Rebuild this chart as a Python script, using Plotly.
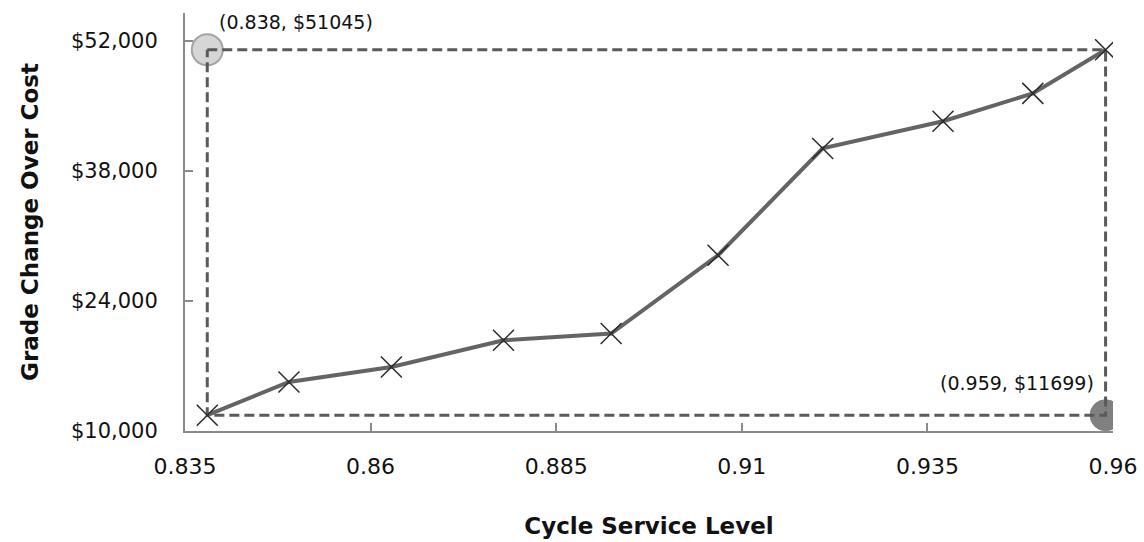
import plotly.graph_objects as go

# Cycle service level vs. grade change-over cost
service_level = [0.838, 0.849, 0.8628, 0.8779, 0.8924, 0.9068, 0.9209, 0.9371, 0.9492, 0.959]
changeover_cost = [11699, 15277, 16892, 19767, 20489, 28921, 40422, 43351, 46345, 51045]

x_ticks = [0.835, 0.86, 0.885, 0.91, 0.935, 0.96]
y_ticks = [10000, 24000, 38000, 52000]
y_tick_text = ["$10,000", "$24,000", "$38,000", "$52,000"]

x_lo, x_hi = service_level[0], service_level[-1]
y_lo, y_hi = changeover_cost[0], changeover_cost[-1]

font_family = "DejaVu Sans, Verdana, sans-serif"
guide_color = "#5a5a5a"

fig = go.Figure()

# corner markers
fig.add_trace(go.Scatter(
    x=[x_lo], y=[y_hi], mode="markers",
    marker=dict(size=31, color="#d6d6d6", line=dict(color="#a3a3a3", width=2)),
    hoverinfo="skip", showlegend=False,
))
fig.add_trace(go.Scatter(
    x=[x_hi], y=[y_lo], mode="markers",
    marker=dict(size=31, color="#808080", line=dict(color="#808080", width=1)),
    hoverinfo="skip", showlegend=False,
))

# dashed bounding guides
fig.add_trace(go.Scatter(
    x=[x_lo, x_hi, x_hi, x_lo, x_lo], y=[y_hi, y_hi, y_lo, y_lo, y_hi],
    mode="lines", line=dict(color=guide_color, width=3, dash="10px,5px"),
    hoverinfo="skip", showlegend=False,
))

# main series
fig.add_trace(go.Scatter(
    x=service_level, y=changeover_cost, mode="lines+markers",
    line=dict(color="#646464", width=4),
    marker=dict(symbol="x-thin", size=21, line=dict(color="#2b2b2b", width=1.5)),
    showlegend=False,
))

fig.add_annotation(x=x_lo, y=y_hi, xref="x", yref="y", text="(0.838, $51045)",
                   showarrow=False, xanchor="left", yanchor="middle",
                   xshift=10, yshift=28, font=dict(size=19, color="#111111", family=font_family))
fig.add_annotation(x=x_hi, y=y_lo, xref="x", yref="y", text="(0.959, $11699)",
                   showarrow=False, xanchor="right", yanchor="middle",
                   xshift=-10, yshift=32, font=dict(size=19, color="#111111", family=font_family))

fig.update_layout(
    width=1144, height=542,
    margin=dict(l=185, r=31, t=13, b=111),
    paper_bgcolor="white", plot_bgcolor="white",
    font=dict(family=font_family, color="#111111"),
)
fig.update_xaxes(
    range=[0.835, 0.96], tickvals=x_ticks, ticktext=[f"{v:g}" for v in x_ticks],
    showgrid=False, zeroline=False, showline=True, linecolor="#8a8a8a", linewidth=2,
    ticks="inside", ticklen=8, tickcolor="#8a8a8a", tickwidth=1.5,
    tickfont=dict(size=22, family=font_family), ticklabelstandoff=15,
    title=dict(text="<b>Cycle Service Level</b>", font=dict(size=23, family=font_family), standoff=39),
    automargin=False,
)
fig.update_yaxes(
    range=[10000, 55000], tickvals=y_ticks, ticktext=y_tick_text,
    showgrid=False, zeroline=False, showline=True, linecolor="#8a8a8a", linewidth=2,
    ticks="inside", ticklen=8, tickcolor="#8a8a8a", tickwidth=1.5,
    tickfont=dict(size=21, family=font_family), ticklabelstandoff=21,
    title=dict(text="<b>Grade Change Over Cost</b>", font=dict(size=23, family=font_family), standoff=26),
    automargin=False,
)

fig.write_html("out.html")
